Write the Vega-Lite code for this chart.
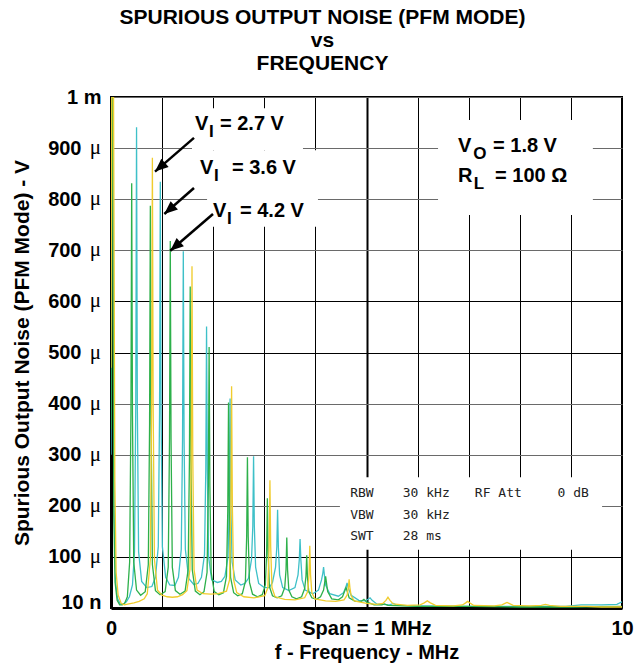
{
"$schema": "https://vega.github.io/schema/vega-lite/v6.json",
"width": 511, "height": 511,
"autosize": {"type": "none"},
"padding": {"left": 111, "top": 97, "right": 12, "bottom": 62},
"background": "white",
"config": {"view": {"stroke": "black", "strokeWidth": 2}, "font": "Liberation Sans"},
"title": {"text": ["SPURIOUS OUTPUT NOISE (PFM MODE)", "vs", "FREQUENCY"], "anchor": "middle", "dx": -44, "offset": 13, "fontSize": 21, "font": "Liberation Sans", "fontWeight": "bold", "color": "black", "lineHeight": 23},
"datasets": {
"traces": [
{"s":"3.6 V","f":0,"v":300},{"s":"3.6 V","f":0.012,"v":1000},{"s":"3.6 V","f":0.035,"v":1000},{"s":"3.6 V","f":0.06,"v":200},{"s":"3.6 V","f":0.09,"v":50},{"s":"3.6 V","f":0.13,"v":18},{"s":"3.6 V","f":0.18,"v":8},{"s":"3.6 V","f":0.24,"v":7},{"s":"3.6 V","f":0.3,"v":12},{"s":"3.6 V","f":0.36,"v":22},{"s":"3.6 V","f":0.42,"v":45},{"s":"3.6 V","f":0.46,"v":110},{"s":"3.6 V","f":0.485,"v":400},{"s":"3.6 V","f":0.5,"v":941},{"s":"3.6 V","f":0.515,"v":400},{"s":"3.6 V","f":0.54,"v":110},{"s":"3.6 V","f":0.6,"v":52},{"s":"3.6 V","f":0.7,"v":40},{"s":"3.6 V","f":0.8,"v":42},{"s":"3.6 V","f":0.87,"v":60},{"s":"3.6 V","f":0.925,"v":120},{"s":"3.6 V","f":0.95,"v":380},{"s":"3.6 V","f":0.965,"v":834},{"s":"3.6 V","f":0.98,"v":380},{"s":"3.6 V","f":1.005,"v":120},{"s":"3.6 V","f":1.07,"v":60},{"s":"3.6 V","f":1.15,"v":45},{"s":"3.6 V","f":1.25,"v":44},{"s":"3.6 V","f":1.32,"v":60},{"s":"3.6 V","f":1.375,"v":115},{"s":"3.6 V","f":1.4,"v":330},{"s":"3.6 V","f":1.415,"v":698},{"s":"3.6 V","f":1.43,"v":330},{"s":"3.6 V","f":1.455,"v":115},{"s":"3.6 V","f":1.52,"v":58},{"s":"3.6 V","f":1.62,"v":46},{"s":"3.6 V","f":1.7,"v":48},{"s":"3.6 V","f":1.77,"v":60},{"s":"3.6 V","f":1.83,"v":105},{"s":"3.6 V","f":1.855,"v":270},{"s":"3.6 V","f":1.87,"v":551},{"s":"3.6 V","f":1.885,"v":270},{"s":"3.6 V","f":1.91,"v":100},{"s":"3.6 V","f":1.97,"v":55},{"s":"3.6 V","f":2.08,"v":50},{"s":"3.6 V","f":2.16,"v":52},{"s":"3.6 V","f":2.23,"v":62},{"s":"3.6 V","f":2.29,"v":100},{"s":"3.6 V","f":2.315,"v":200},{"s":"3.6 V","f":2.33,"v":410},{"s":"3.6 V","f":2.345,"v":200},{"s":"3.6 V","f":2.37,"v":90},{"s":"3.6 V","f":2.43,"v":55},{"s":"3.6 V","f":2.54,"v":45},{"s":"3.6 V","f":2.62,"v":48},{"s":"3.6 V","f":2.69,"v":58},{"s":"3.6 V","f":2.75,"v":95},{"s":"3.6 V","f":2.775,"v":160},{"s":"3.6 V","f":2.79,"v":297},{"s":"3.6 V","f":2.805,"v":160},{"s":"3.6 V","f":2.83,"v":80},{"s":"3.6 V","f":2.89,"v":48},{"s":"3.6 V","f":3.0,"v":40},{"s":"3.6 V","f":3.1,"v":40},{"s":"3.6 V","f":3.16,"v":50},{"s":"3.6 V","f":3.22,"v":80},{"s":"3.6 V","f":3.245,"v":120},{"s":"3.6 V","f":3.26,"v":192},{"s":"3.6 V","f":3.275,"v":120},{"s":"3.6 V","f":3.3,"v":65},{"s":"3.6 V","f":3.36,"v":40},{"s":"3.6 V","f":3.48,"v":34},{"s":"3.6 V","f":3.6,"v":40},{"s":"3.6 V","f":3.66,"v":65},{"s":"3.6 V","f":3.685,"v":95},{"s":"3.6 V","f":3.7,"v":135},{"s":"3.6 V","f":3.715,"v":95},{"s":"3.6 V","f":3.74,"v":55},{"s":"3.6 V","f":3.8,"v":35},{"s":"3.6 V","f":3.95,"v":28},{"s":"3.6 V","f":4.06,"v":35},{"s":"3.6 V","f":4.12,"v":55},{"s":"3.6 V","f":4.145,"v":68},{"s":"3.6 V","f":4.16,"v":80},{"s":"3.6 V","f":4.175,"v":65},{"s":"3.6 V","f":4.2,"v":45},{"s":"3.6 V","f":4.28,"v":28},{"s":"3.6 V","f":4.45,"v":23},{"s":"3.6 V","f":4.55,"v":30},{"s":"3.6 V","f":4.6,"v":42},{"s":"3.6 V","f":4.62,"v":49},{"s":"3.6 V","f":4.64,"v":40},{"s":"3.6 V","f":4.7,"v":25},{"s":"3.6 V","f":4.85,"v":15},{"s":"3.6 V","f":4.98,"v":14},{"s":"3.6 V","f":5.03,"v":17},{"s":"3.6 V","f":5.07,"v":20},{"s":"3.6 V","f":5.11,"v":15},{"s":"3.6 V","f":5.2,"v":8},{"s":"3.6 V","f":5.45,"v":6},{"s":"3.6 V","f":5.53,"v":9},{"s":"3.6 V","f":5.6,"v":5},{"s":"3.6 V","f":6.0,"v":4},{"s":"3.6 V","f":7.0,"v":3},{"s":"3.6 V","f":8.0,"v":3},{"s":"3.6 V","f":8.9,"v":3},{"s":"3.6 V","f":9.2,"v":6},{"s":"3.6 V","f":9.6,"v":6},{"s":"3.6 V","f":9.9,"v":7},{"s":"3.6 V","f":10,"v":12},
{"s":"4.2 V","f":0,"v":350},{"s":"4.2 V","f":0.01,"v":1000},{"s":"4.2 V","f":0.03,"v":1000},{"s":"4.2 V","f":0.055,"v":180},{"s":"4.2 V","f":0.08,"v":50},{"s":"4.2 V","f":0.12,"v":15},{"s":"4.2 V","f":0.17,"v":6},{"s":"4.2 V","f":0.22,"v":6},{"s":"4.2 V","f":0.27,"v":10},{"s":"4.2 V","f":0.32,"v":22},{"s":"4.2 V","f":0.365,"v":90},{"s":"4.2 V","f":0.39,"v":380},{"s":"4.2 V","f":0.405,"v":831},{"s":"4.2 V","f":0.42,"v":380},{"s":"4.2 V","f":0.445,"v":90},{"s":"4.2 V","f":0.5,"v":35},{"s":"4.2 V","f":0.58,"v":25},{"s":"4.2 V","f":0.67,"v":32},{"s":"4.2 V","f":0.73,"v":85},{"s":"4.2 V","f":0.755,"v":360},{"s":"4.2 V","f":0.77,"v":787},{"s":"4.2 V","f":0.785,"v":360},{"s":"4.2 V","f":0.81,"v":85},{"s":"4.2 V","f":0.87,"v":34},{"s":"4.2 V","f":0.96,"v":26},{"s":"4.2 V","f":1.06,"v":32},{"s":"4.2 V","f":1.12,"v":80},{"s":"4.2 V","f":1.145,"v":330},{"s":"4.2 V","f":1.16,"v":718},{"s":"4.2 V","f":1.175,"v":330},{"s":"4.2 V","f":1.2,"v":80},{"s":"4.2 V","f":1.26,"v":34},{"s":"4.2 V","f":1.35,"v":27},{"s":"4.2 V","f":1.45,"v":33},{"s":"4.2 V","f":1.51,"v":75},{"s":"4.2 V","f":1.535,"v":290},{"s":"4.2 V","f":1.55,"v":629},{"s":"4.2 V","f":1.565,"v":290},{"s":"4.2 V","f":1.59,"v":75},{"s":"4.2 V","f":1.65,"v":33},{"s":"4.2 V","f":1.74,"v":26},{"s":"4.2 V","f":1.82,"v":32},{"s":"4.2 V","f":1.88,"v":70},{"s":"4.2 V","f":1.905,"v":240},{"s":"4.2 V","f":1.92,"v":511},{"s":"4.2 V","f":1.935,"v":240},{"s":"4.2 V","f":1.96,"v":70},{"s":"4.2 V","f":2.02,"v":32},{"s":"4.2 V","f":2.11,"v":26},{"s":"4.2 V","f":2.2,"v":30},{"s":"4.2 V","f":2.26,"v":62},{"s":"4.2 V","f":2.285,"v":190},{"s":"4.2 V","f":2.3,"v":402},{"s":"4.2 V","f":2.315,"v":190},{"s":"4.2 V","f":2.34,"v":60},{"s":"4.2 V","f":2.4,"v":30},{"s":"4.2 V","f":2.48,"v":24},{"s":"4.2 V","f":2.57,"v":28},{"s":"4.2 V","f":2.63,"v":52},{"s":"4.2 V","f":2.655,"v":140},{"s":"4.2 V","f":2.67,"v":295},{"s":"4.2 V","f":2.685,"v":140},{"s":"4.2 V","f":2.71,"v":50},{"s":"4.2 V","f":2.77,"v":27},{"s":"4.2 V","f":2.87,"v":22},{"s":"4.2 V","f":2.96,"v":26},{"s":"4.2 V","f":3.02,"v":45},{"s":"4.2 V","f":3.045,"v":105},{"s":"4.2 V","f":3.06,"v":215},{"s":"4.2 V","f":3.075,"v":105},{"s":"4.2 V","f":3.1,"v":42},{"s":"4.2 V","f":3.16,"v":24},{"s":"4.2 V","f":3.25,"v":20},{"s":"4.2 V","f":3.34,"v":24},{"s":"4.2 V","f":3.4,"v":40},{"s":"4.2 V","f":3.425,"v":75},{"s":"4.2 V","f":3.44,"v":138},{"s":"4.2 V","f":3.455,"v":75},{"s":"4.2 V","f":3.48,"v":35},{"s":"4.2 V","f":3.54,"v":22},{"s":"4.2 V","f":3.63,"v":18},{"s":"4.2 V","f":3.73,"v":22},{"s":"4.2 V","f":3.79,"v":38},{"s":"4.2 V","f":3.815,"v":62},{"s":"4.2 V","f":3.83,"v":103},{"s":"4.2 V","f":3.845,"v":60},{"s":"4.2 V","f":3.87,"v":32},{"s":"4.2 V","f":3.93,"v":20},{"s":"4.2 V","f":4.02,"v":17},{"s":"4.2 V","f":4.1,"v":22},{"s":"4.2 V","f":4.16,"v":35},{"s":"4.2 V","f":4.2,"v":62},{"s":"4.2 V","f":4.24,"v":32},{"s":"4.2 V","f":4.32,"v":18},{"s":"4.2 V","f":4.45,"v":16},{"s":"4.2 V","f":4.53,"v":22},{"s":"4.2 V","f":4.6,"v":40},{"s":"4.2 V","f":4.66,"v":20},{"s":"4.2 V","f":4.78,"v":13},{"s":"4.2 V","f":4.9,"v":13},{"s":"4.2 V","f":4.95,"v":17},{"s":"4.2 V","f":5.0,"v":12},{"s":"4.2 V","f":5.15,"v":6},{"s":"4.2 V","f":5.3,"v":6},{"s":"4.2 V","f":5.35,"v":8},{"s":"4.2 V","f":5.42,"v":5},{"s":"4.2 V","f":6.0,"v":3},{"s":"4.2 V","f":7.0,"v":3},{"s":"4.2 V","f":8.0,"v":2},{"s":"4.2 V","f":9.0,"v":2},{"s":"4.2 V","f":10,"v":3},
{"s":"2.7 V","f":0,"v":470},{"s":"2.7 V","f":0.015,"v":1000},{"s":"2.7 V","f":0.05,"v":1000},{"s":"2.7 V","f":0.075,"v":250},{"s":"2.7 V","f":0.1,"v":70},{"s":"2.7 V","f":0.14,"v":25},{"s":"2.7 V","f":0.2,"v":9},{"s":"2.7 V","f":0.26,"v":6},{"s":"2.7 V","f":0.35,"v":8},{"s":"2.7 V","f":0.45,"v":10},{"s":"2.7 V","f":0.55,"v":13},{"s":"2.7 V","f":0.65,"v":18},{"s":"2.7 V","f":0.71,"v":28},{"s":"2.7 V","f":0.77,"v":95},{"s":"2.7 V","f":0.795,"v":400},{"s":"2.7 V","f":0.81,"v":881},{"s":"2.7 V","f":0.825,"v":400},{"s":"2.7 V","f":0.85,"v":95},{"s":"2.7 V","f":0.91,"v":35},{"s":"2.7 V","f":1.0,"v":25},{"s":"2.7 V","f":1.1,"v":22},{"s":"2.7 V","f":1.2,"v":21},{"s":"2.7 V","f":1.3,"v":22},{"s":"2.7 V","f":1.4,"v":26},{"s":"2.7 V","f":1.485,"v":34},{"s":"2.7 V","f":1.545,"v":75},{"s":"2.7 V","f":1.57,"v":300},{"s":"2.7 V","f":1.585,"v":669},{"s":"2.7 V","f":1.6,"v":300},{"s":"2.7 V","f":1.625,"v":75},{"s":"2.7 V","f":1.685,"v":35},{"s":"2.7 V","f":1.8,"v":28},{"s":"2.7 V","f":1.95,"v":27},{"s":"2.7 V","f":2.1,"v":28},{"s":"2.7 V","f":2.26,"v":33},{"s":"2.7 V","f":2.32,"v":55},{"s":"2.7 V","f":2.345,"v":200},{"s":"2.7 V","f":2.36,"v":434},{"s":"2.7 V","f":2.375,"v":200},{"s":"2.7 V","f":2.4,"v":55},{"s":"2.7 V","f":2.46,"v":30},{"s":"2.7 V","f":2.6,"v":22},{"s":"2.7 V","f":2.8,"v":20},{"s":"2.7 V","f":3.01,"v":24},{"s":"2.7 V","f":3.07,"v":40},{"s":"2.7 V","f":3.095,"v":120},{"s":"2.7 V","f":3.11,"v":250},{"s":"2.7 V","f":3.125,"v":120},{"s":"2.7 V","f":3.15,"v":40},{"s":"2.7 V","f":3.21,"v":22},{"s":"2.7 V","f":3.4,"v":17},{"s":"2.7 V","f":3.6,"v":16},{"s":"2.7 V","f":3.79,"v":20},{"s":"2.7 V","f":3.85,"v":32},{"s":"2.7 V","f":3.875,"v":65},{"s":"2.7 V","f":3.89,"v":122},{"s":"2.7 V","f":3.905,"v":65},{"s":"2.7 V","f":3.93,"v":30},{"s":"2.7 V","f":3.99,"v":18},{"s":"2.7 V","f":4.2,"v":14},{"s":"2.7 V","f":4.4,"v":13},{"s":"2.7 V","f":4.56,"v":16},{"s":"2.7 V","f":4.62,"v":25},{"s":"2.7 V","f":4.645,"v":40},{"s":"2.7 V","f":4.66,"v":56},{"s":"2.7 V","f":4.675,"v":40},{"s":"2.7 V","f":4.7,"v":24},{"s":"2.7 V","f":4.76,"v":14},{"s":"2.7 V","f":5.0,"v":9},{"s":"2.7 V","f":5.2,"v":7},{"s":"2.7 V","f":5.32,"v":9},{"s":"2.7 V","f":5.38,"v":15},{"s":"2.7 V","f":5.42,"v":21},{"s":"2.7 V","f":5.46,"v":15},{"s":"2.7 V","f":5.52,"v":8},{"s":"2.7 V","f":5.8,"v":5},{"s":"2.7 V","f":6.05,"v":6},{"s":"2.7 V","f":6.13,"v":10},{"s":"2.7 V","f":6.19,"v":14},{"s":"2.7 V","f":6.25,"v":10},{"s":"2.7 V","f":6.35,"v":5},{"s":"2.7 V","f":6.7,"v":4},{"s":"2.7 V","f":6.88,"v":6},{"s":"2.7 V","f":6.94,"v":10},{"s":"2.7 V","f":6.98,"v":13},{"s":"2.7 V","f":7.02,"v":10},{"s":"2.7 V","f":7.1,"v":5},{"s":"2.7 V","f":7.5,"v":4},{"s":"2.7 V","f":7.65,"v":6},{"s":"2.7 V","f":7.71,"v":9},{"s":"2.7 V","f":7.75,"v":11},{"s":"2.7 V","f":7.79,"v":9},{"s":"2.7 V","f":7.87,"v":5},{"s":"2.7 V","f":8.2,"v":4},{"s":"2.7 V","f":8.42,"v":5},{"s":"2.7 V","f":8.5,"v":7},{"s":"2.7 V","f":8.58,"v":5},{"s":"2.7 V","f":8.8,"v":3},{"s":"2.7 V","f":9.3,"v":3},{"s":"2.7 V","f":9.6,"v":2},{"s":"2.7 V","f":10,"v":2}
],
"boxes": [
{"f":1.585,"f2":3.757,"v":978,"v2":896},
{"f":1.585,"f2":4.05,"v":896,"v2":818},
{"f":1.88,"f2":4.05,"v":818,"v2":746},
{"f":6.40,"f2":9.43,"v":955,"v2":769},
{"f":4.48,"f2":9.61,"v":256,"v2":114}
],
"arrows": [
{"f":0.861,"v":854,"f2":1.624,"v2":920},
{"f":1.043,"v":771,"f2":1.624,"v2":822},
{"f":1.16,"v":699,"f2":1.996,"v2":771}
],
"lab": [
{"f":1.644,"v":935,"t":"V","k":"m"},{"f":1.918,"v":935,"t":"I","k":"s"},{"f":2.133,"v":935,"t":"= 2.7 V","k":"m"},
{"f":1.742,"v":849,"t":"V","k":"m"},{"f":2.016,"v":849,"t":"I","k":"s"},{"f":2.368,"v":849,"t":"= 3.6 V","k":"m"},
{"f":1.996,"v":765,"t":"V","k":"m"},{"f":2.27,"v":765,"t":"I","k":"s"},{"f":2.524,"v":765,"t":"= 4.2 V","k":"m"},
{"f":6.791,"v":892,"t":"V","k":"m"},{"f":7.09,"v":892,"t":"O","k":"s"},{"f":7.476,"v":892,"t":"= 1.8 V","k":"m"},
{"f":6.791,"v":834,"t":"R","k":"m"},{"f":7.1,"v":834,"t":"L","k":"s"},{"f":7.515,"v":834,"t":"= 100 Ω","k":"m"}
],
"inst": [
{"f":4.68,"v":217,"t":"RBW"},{"f":5.71,"v":217,"t":"30 kHz"},{"f":7.12,"v":217,"t":"RF Att"},{"f":8.74,"v":217,"t":"0 dB"},
{"f":4.68,"v":174,"t":"VBW"},{"f":5.71,"v":174,"t":"30 kHz"},
{"f":4.68,"v":133,"t":"SWT"},{"f":5.71,"v":133,"t":"28 ms"}
],
"mu": [
{"f":0,"v":100},{"f":0,"v":200},{"f":0,"v":300},{"f":0,"v":400},{"f":0,"v":500},{"f":0,"v":600},{"f":0,"v":700},{"f":0,"v":800},{"f":0,"v":900}
]
},
"encoding": {
"x": {"field": "f", "type": "quantitative", "scale": {"domain": [0, 10], "nice": false, "zero": false},
 "axis": {"values": [0,1,2,3,4,5,6,7,8,9,10], "labelExpr": "datum.value==0?'0':datum.value==10?'10':datum.value==5?'Span = 1 MHz':''",
  "labelFlush": false, "labelOverlap": false, "labelFontSize": 20, "labelFontWeight": "bold", "labelColor": "black", "labelFont": "Liberation Sans", "labelPadding": 10,
  "ticks": false, "domainColor": "black", "domainWidth": 3,
  "grid": true, "gridColor": "black", "gridOpacity": 1, "gridWidth": {"condition": {"test": "datum.value==5", "value": 2}, "value": 1},
  "title": "f - Frequency - MHz", "titleFontSize": 20, "titleFontWeight": "bold", "titleColor": "black", "titleFont": "Liberation Sans",
  "titleX": 255.5, "titleY": 44, "titleBaseline": "middle", "titleAlign": "center"}},
"y": {"field": "v", "type": "quantitative", "scale": {"domain": [0, 1000], "nice": false, "zero": false},
 "axis": {"values": [0,100,200,300,400,500,600,700,800,900,1000], "labelExpr": "datum.value==1000?'1 m':datum.value==0?'10 n':format(datum.value,'d')",
  "labelPadding": {"condition": {"test": "datum.value==0||datum.value==1000", "value": 10}, "value": 30},
  "labelBaseline": {"condition": {"test": "datum.value==0", "value": "alphabetic"}, "value": "middle"},
  "labelOverlap": false, "labelFontSize": 20, "labelFontWeight": "bold", "labelColor": "black", "labelFont": "Liberation Sans",
  "ticks": false, "domainColor": "black", "domainWidth": 3,
  "grid": true, "gridOpacity": 1, "gridWidth": 1.2,
  "gridColor": {"condition": {"test": "datum.value==100||datum.value==500||datum.value==600", "value": "black"}, "value": "#6a6a6a"},
  "title": "Spurious Output Noise (PFM Mode) - V", "titleFontSize": 21, "titleFontWeight": "bold", "titleColor": "black", "titleFont": "Liberation Sans",
  "titleAngle": -90, "titleX": -89, "titleY": 255.5, "titleAlign": "center", "titleBaseline": "middle"}}
},
"layer": [
{"data": {"name": "boxes"}, "mark": {"type": "rect", "fill": "white"}, "encoding": {"x2": {"field": "f2"}, "y2": {"field": "v2"}}},
{"data": {"name": "traces"}, "mark": {"type": "line", "strokeWidth": 1.3, "clip": true},
 "encoding": {"color": {"field": "s", "type": "nominal", "scale": {"domain": ["3.6 V", "4.2 V", "2.7 V"], "range": ["#3EC0C8", "#2DB04A", "#F0CC2E"]}, "legend": null}}},
{"data": {"name": "arrows"}, "mark": {"type": "rule", "strokeWidth": 2.5, "color": "black"}, "encoding": {"x2": {"field": "f2"}, "y2": {"field": "v2"}}},
{"data": {"name": "arrows"}, "mark": {"type": "point", "shape": "M0,0L-0.42,1L0.42,1Z", "angle": 229, "size": 700, "filled": true, "color": "black", "opacity": 1, "strokeWidth": 0}},
{"data": {"name": "lab"}, "transform": [{"filter": "datum.k=='m'"}], "mark": {"type": "text", "align": "left", "baseline": "alphabetic", "fontSize": 20, "fontWeight": "bold", "font": "Liberation Sans", "color": "black"}, "encoding": {"text": {"field": "t"}}},
{"data": {"name": "lab"}, "transform": [{"filter": "datum.k=='s'"}], "mark": {"type": "text", "align": "left", "baseline": "alphabetic", "dy": 7, "fontSize": 17, "fontWeight": "bold", "font": "Liberation Sans", "color": "black"}, "encoding": {"text": {"field": "t"}}},
{"data": {"name": "inst"}, "mark": {"type": "text", "align": "left", "baseline": "alphabetic", "fontSize": 13, "font": "DejaVu Sans Mono", "color": "#222222"}, "encoding": {"text": {"field": "t"}}},
{"data": {"name": "mu"}, "mark": {"type": "text", "align": "right", "baseline": "middle", "dx": -10, "fontSize": 21, "font": "Liberation Serif", "color": "black", "text": "μ", "clip": false}}
]
}
